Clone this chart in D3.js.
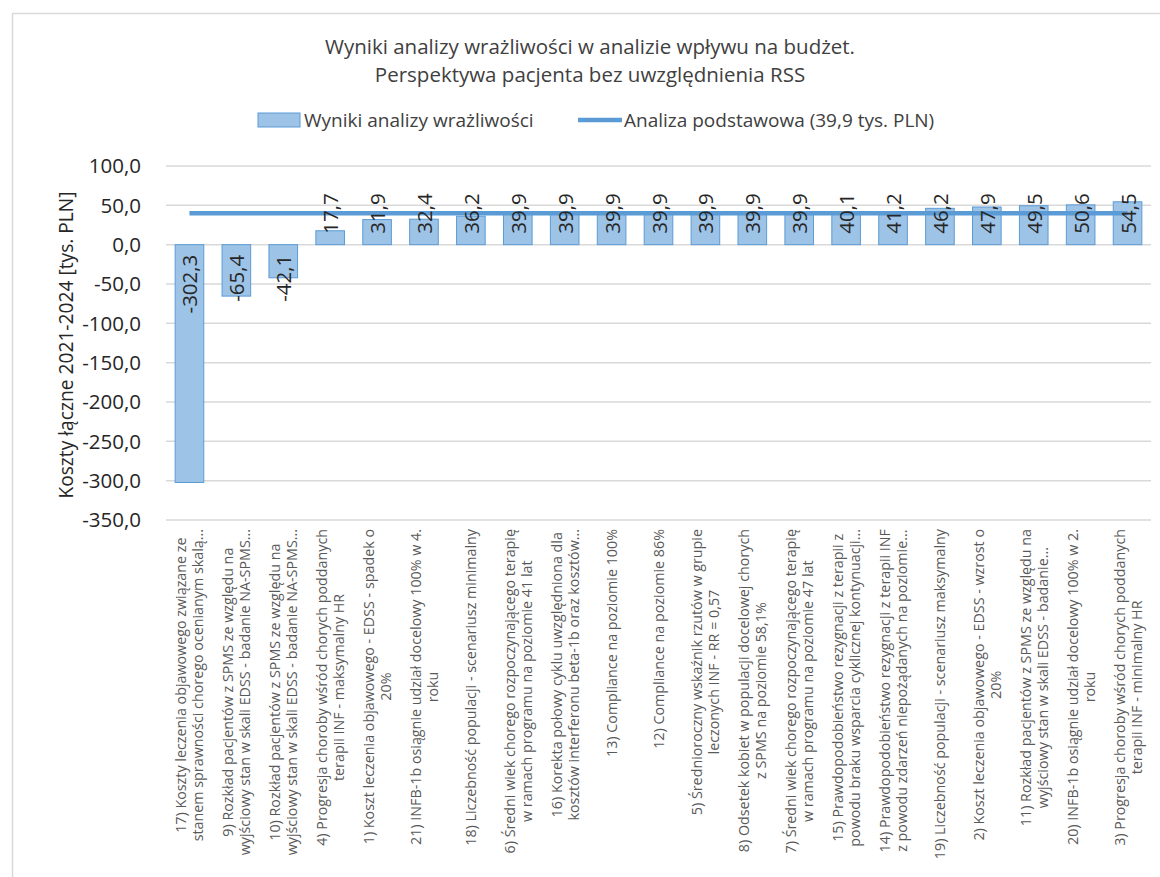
<!DOCTYPE html>
<html><head><meta charset="utf-8">
<script src="https://cdn.jsdelivr.net/npm/d3@7"></script>
<style>
body{margin:0;background:#fff}
svg{display:block}
text{font-family:"Open Sans",sans-serif}
</style>
</head><body>
<svg id="c" width="1160" height="877"></svg>
<script>
const titleLines = ["Wyniki analizy wrażliwości w analizie wpływu na budżet.", "Perspektywa pacjenta bez uwzględnienia RSS"];
const legendLabels = ["Wyniki analizy wrażliwości", "Analiza podstawowa (39,9 tys. PLN)"];
const yAxisTitle = "Koszty łączne 2021-2024 [tys. PLN]";
const categories = [
  ["17) Koszty leczenia objawowego związane ze", "stanem sprawności chorego ocenianym skalą..."],
  ["9) Rozkład pacjentów z SPMS ze względu na", "wyjściowy stan w skali EDSS - badanie NA-SPMS..."],
  ["10) Rozkład pacjentów z SPMS ze względu na", "wyjściowy stan w skali EDSS - badanie NA-SPMS..."],
  ["4) Progresja choroby wśród chorych poddanych", "terapii INF - maksymalny HR"],
  ["1) Koszt leczenia objawowego - EDSS - spadek o", "20%"],
  ["21) INFB-1b osiągnie udział docelowy 100% w 4.", "roku"],
  ["18) Liczebność populacji - scenariusz minimalny"],
  ["6) Średni wiek chorego rozpoczynającego terapię", "w ramach programu na poziomie 41 lat"],
  ["16) Korekta połowy cyklu uwzględniona dla", "kosztów interferonu beta-1b oraz kosztów..."],
  ["13) Compliance na poziomie 100%"],
  ["12) Compliance na poziomie 86%"],
  ["5) Średnioroczny wskaźnik rzutów w grupie", "leczonych INF - RR = 0,57"],
  ["8) Odsetek kobiet w populacji docelowej chorych", "z SPMS na poziomie 58,1%"],
  ["7) Średni wiek chorego rozpoczynającego terapię", "w ramach programu na poziomie 47 lat"],
  ["15) Prawdopodobieństwo rezygnacji z terapii z", "powodu braku wsparcia cyklicznej kontynuacji..."],
  ["14) Prawdopodobieństwo rezygnacji z terapii INF", "z powodu zdarzeń niepożądanych na poziomie..."],
  ["19) Liczebność populacji - scenariusz maksymalny"],
  ["2) Koszt leczenia objawowego - EDSS - wzrost o", "20%"],
  ["11) Rozkład pacjentów z SPMS ze względu na", "wyjściowy stan w skali EDSS - badanie..."],
  ["20) INFB-1b osiągnie udział docelowy 100% w 2.", "roku"],
  ["3) Progresja choroby wśród chorych poddanych", "terapii INF - minimalny HR"]
];
const values = [-302.3, -65.4, -42.1, 17.7, 31.9, 32.4, 36.2, 39.9, 39.9, 39.9, 39.9, 39.9, 39.9, 39.9, 40.1, 41.2, 46.2, 47.9, 49.5, 50.6, 54.5];
const baseValue = 39.9;
const yTicks = [100, 50, 0, -50, -100, -150, -200, -250, -300, -350];

const svg = d3.select("#c");
const fmt = v => v.toFixed(1).replace(".", ",");

// frame
svg.append("rect").attr("x", 12.5).attr("y", 13.5).attr("width", 1200).attr("height", 900)
  .attr("fill", "#fff").attr("stroke", "#d9d9d9").attr("stroke-width", 1.5);

const x = d3.scaleBand().domain(d3.range(values.length)).range([166, 1151]).paddingInner(0.39).paddingOuter(0.195);
const y = d3.scaleLinear().domain([-350, 100]).range([520, 166]);

// gridlines
svg.append("g").selectAll("line").data(yTicks).join("line")
  .attr("x1", 166).attr("x2", 1151)
  .attr("y1", d => y(d)).attr("y2", d => y(d))
  .attr("stroke", "#d9d9d9").attr("stroke-width", 1.5);

// y axis
const yAxis = svg.append("g").attr("transform", "translate(166,0)")
  .call(d3.axisLeft(y).tickValues(yTicks).tickFormat(fmt).tickSize(0).tickPadding(25));
yAxis.select(".domain").remove();
yAxis.selectAll("text").attr("font-family", "Open Sans, sans-serif").attr("font-size", 20.5).attr("fill", "#262626").attr("dy", "0.34em");

// y title
svg.append("text").attr("transform", "translate(65,345) rotate(-90)")
  .attr("text-anchor", "middle").attr("dominant-baseline", "central")
  .attr("font-size", 19.2).attr("fill", "#262626").text(yAxisTitle);

// bars
svg.append("g").selectAll("rect").data(values).join("rect")
  .attr("x", (d, i) => x(i)).attr("width", x.bandwidth())
  .attr("y", d => y(Math.max(0, d))).attr("height", d => Math.abs(y(d) - y(0)))
  .attr("fill", "#9dc3e6").attr("stroke", "#5b9bd5").attr("stroke-width", 1);

// base line
const line = d3.line().x((d, i) => x(i) + x.bandwidth() / 2).y(() => y(baseValue));
svg.append("path").datum(values).attr("d", line)
  .attr("fill", "none").attr("stroke", "#5b9bd5").attr("stroke-width", 4.5);

// data labels (inside base)
svg.append("g").selectAll("text").data(values).join("text")
  .attr("transform", (d, i) => {
    const cx = x(i) + x.bandwidth() / 2;
    const yy = d >= 0 ? y(0) - 11 : y(0) + 10;
    return `translate(${cx},${yy}) rotate(-90)`;
  })
  .attr("text-anchor", d => d >= 0 ? "start" : "end")
  .attr("dominant-baseline", "central")
  .attr("font-size", 20.5).attr("fill", "#262626")
  .text(fmt);

// category labels
const catG = svg.append("g");
categories.forEach((lines, i) => {
  const cx = x(i) + x.bandwidth() / 2;
  const g = catG.append("g");
  const n = lines.length;
  const texts = lines.map((t, k) => g.append("text")
    .attr("font-size", 14.3).attr("fill", "#595959")
    .attr("text-anchor", "middle").attr("dominant-baseline", "central").text(t));
  const L = d3.max(texts, t => t.node().getComputedTextLength());
  texts.forEach((t, k) => {
    const off = (k - (n - 1) / 2) * 17;
    t.attr("transform", `translate(${cx + off},${529 + L / 2}) rotate(-90)`);
  });
});

// title
svg.append("g").selectAll("text").data(titleLines).join("text")
  .attr("x", 590).attr("y", (d, i) => 46 + i * 28)
  .attr("text-anchor", "middle").attr("dominant-baseline", "central")
  .attr("font-size", 20.5).attr("fill", "#404040").text(d => d);

// legend
svg.append("rect").attr("x", 258).attr("y", 113).attr("width", 42).attr("height", 14)
  .attr("fill", "#9dc3e6").attr("stroke", "#5b9bd5").attr("stroke-width", 1);
svg.append("text").attr("x", 304).attr("y", 120).attr("dominant-baseline", "central")
  .attr("font-size", 19).attr("fill", "#404040").text(legendLabels[0]);
svg.append("line").attr("x1", 578).attr("x2", 622).attr("y1", 120).attr("y2", 120)
  .attr("stroke", "#5b9bd5").attr("stroke-width", 4.5);
svg.append("text").attr("x", 624).attr("y", 120).attr("dominant-baseline", "central")
  .attr("font-size", 19).attr("fill", "#404040").text(legendLabels[1]);
</script>
</body></html>
